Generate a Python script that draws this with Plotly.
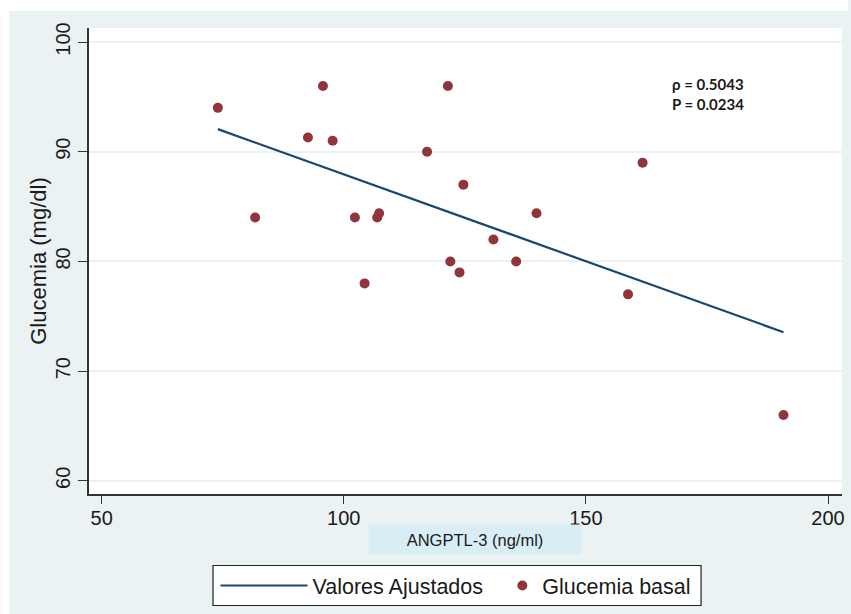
import numpy as np
import plotly.graph_objects as go

# ANGPTL-3 (ng/ml) and basal glucose (mg/dl) per subject
angptl3 = [74.0, 81.7, 92.6, 95.7, 97.7, 102.3, 104.3, 106.9, 107.3, 117.2,
           121.5, 122.0, 123.9, 124.7, 130.9, 135.6, 139.8, 158.7, 161.7, 190.8]
glucemia = [94.0, 84.0, 91.3, 96.0, 91.0, 84.0, 78.0, 84.0, 84.4, 90.0,
            96.0, 80.0, 79.0, 87.0, 82.0, 80.0, 84.4, 77.0, 89.0, 66.0]

x_ticks = [50, 100, 150, 200]
y_ticks = [60, 70, 80, 90, 100]

rho_text = "ρ = 0.5043"
p_text = "P = 0.0234"

# Least-squares fitted values over the observed ANGPTL-3 range
slope, intercept = np.polyfit(angptl3, glucemia, 1)
x_fit = [min(angptl3), max(angptl3)]
y_fit = [slope * v + intercept for v in x_fit]

NAVY = "#1A476F"
MAROON = "#90353B"
BG = "#EAF2F3"
TXT = "#1a1a1a"
FONT = "Liberation Sans, Arial, sans-serif"

fig = go.Figure()
fig.add_trace(go.Scatter(
    x=x_fit, y=y_fit, mode="lines", name="Valores Ajustados",
    line=dict(color=NAVY, width=2.2), legend="legend",
))
fig.add_trace(go.Scatter(
    x=angptl3, y=glucemia, mode="markers", name="Glucemia basal",
    marker=dict(color=MAROON, size=10), legend="legend2",
))

W, H = 851, 614
ML, MR, MT, MB = 89, 6, 28, 120
PW, PH = W - ML - MR, H - MT - MB


def px_x(px):
    return (px - ML) / PW


def px_y(py):
    return 1 - (py - MT) / PH


legend_common = dict(
    orientation="h", yanchor="middle", y=px_y(585.5),
    bgcolor="rgba(0,0,0,0)", borderwidth=0,
    font=dict(size=21.5, color=TXT),
)

fig.update_layout(
    width=W, height=H,
    margin=dict(l=ML, r=MR, t=MT, b=MB, pad=0),
    paper_bgcolor=BG,
    plot_bgcolor="white",
    font=dict(family=FONT, color=TXT, size=20),
    showlegend=True,
    # one legend per entry so the line sample and the marker sample
    # can each have their own symbol width inside a shared frame
    legend=dict(x=px_x(216), xanchor="left", itemwidth=87, **legend_common),
    legend2=dict(x=px_x(504), xanchor="left", itemwidth=30, **legend_common),
    xaxis=dict(
        range=[47.39, 202.88],
        tickvals=x_ticks,
        showgrid=False, zeroline=False,
        showline=True, linecolor="#333333", linewidth=1.5,
        ticks="outside", ticklen=8, tickwidth=1.2, tickcolor="#333333",
        tickfont=dict(size=20, color=TXT),
        ticklabelstandoff=-3,
    ),
    yaxis=dict(
        range=[58.80, 101.28],
        tickvals=y_ticks,
        tickangle=-90,
        showgrid=True, gridcolor=BG, gridwidth=2,
        zeroline=False,
        showline=True, linecolor="#333333", linewidth=1.5,
        ticks="outside", ticklen=9, tickwidth=1.2, tickcolor="#333333",
        tickfont=dict(size=20, color=TXT),
        title=dict(text="Glucemia (mg/dl)", font=dict(size=22, color=TXT), standoff=0),
    ),
    shapes=[
        # thin white frame on the left and top edges of the canvas
        dict(type="rect", xref="paper", yref="paper",
             x0=px_x(0), x1=px_x(9), y0=px_y(H), y1=px_y(0),
             fillcolor="white", line=dict(width=0), layer="above"),
        dict(type="rect", xref="paper", yref="paper",
             x0=px_x(0), x1=px_x(W), y0=px_y(11), y1=px_y(0),
             fillcolor="white", line=dict(width=0), layer="above"),
        # legend frame
        dict(type="rect", xref="paper", yref="paper",
             x0=px_x(213.5), x1=px_x(703.5), y0=px_y(605.5), y1=px_y(565.5),
             fillcolor="white", line=dict(width=1.2, color="#222222"), layer="above"),
    ],
    annotations=[
        dict(text="ANGPTL-3 (ng/ml)", xref="paper", yref="paper",
             x=px_x(477), y=px_y(539.5), xanchor="center", yanchor="middle",
             showarrow=False, bgcolor="#D9EDF4", width=212, height=29,
             borderpad=0, font=dict(size=16.5, color=TXT)),
        dict(text="<b>" + rho_text + "</b>", x=167.3, y=96.17, xref="x", yref="y",
             xanchor="left", yanchor="middle", showarrow=False,
             font=dict(family="Lato, Open Sans, sans-serif", size=15, color=TXT)),
        dict(text="<b>" + p_text + "</b>", x=167.3, y=94.35, xref="x", yref="y",
             xanchor="left", yanchor="middle", showarrow=False,
             font=dict(family="Lato, Open Sans, sans-serif", size=15, color=TXT)),
    ],
)

fig.write_html("out.html")
